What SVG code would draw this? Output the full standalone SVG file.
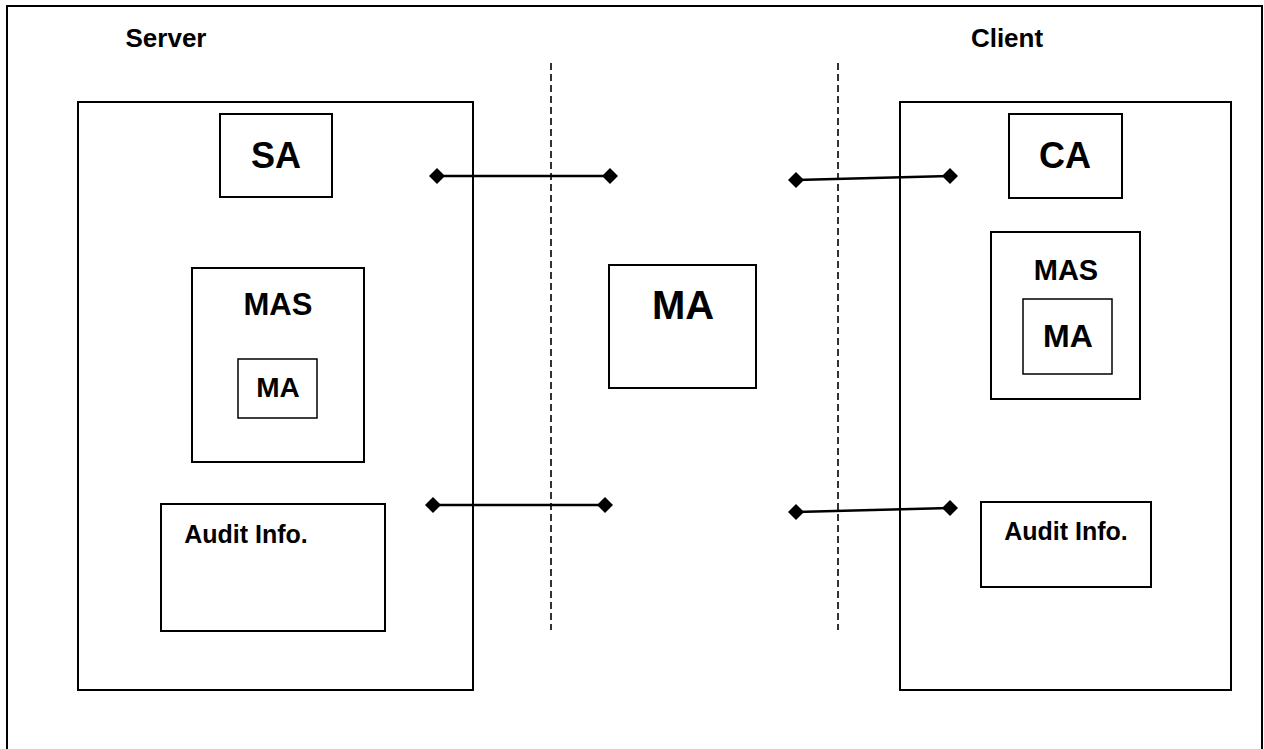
<svg xmlns="http://www.w3.org/2000/svg" width="1264" height="749" viewBox="0 0 1264 749">
<style>
.box{fill:#fff;stroke:#000;stroke-width:2}
.thin{fill:#fff;stroke:#000;stroke-width:1.5}
.lbl{font-family:"Liberation Sans",Arial,sans-serif;font-weight:bold;fill:#000;text-anchor:middle}
.dash{stroke:#000;stroke-width:1.6;stroke-dasharray:7,4;fill:none}
.conn{stroke:#000;stroke-width:2.5;fill:none}
.dia{fill:#000}
</style>
<defs>
<path id="d" d="M0,-8 L8,0 L0,8 L-8,0 Z"/>
</defs>
<rect id="frame" x="7" y="6" width="1255" height="760" fill="#fff" stroke="#000" stroke-width="2"/>
<g id="server-label"><text class="lbl" x="166" y="47" font-size="26">Server</text></g>
<g id="client-label"><text class="lbl" x="1007" y="47" font-size="26">Client</text></g>

<g id="server">
<rect class="box" x="78" y="102" width="395" height="588"/>
</g>
<g id="SA">
<rect class="box" x="220" y="114" width="112" height="83"/>
<text class="lbl" x="276" y="168" font-size="36">SA</text>
</g>
<g id="server-MAS">
<rect class="box" x="192" y="268" width="172" height="194"/>
<text class="lbl" x="278" y="315" font-size="31">MAS</text>
</g>
<g id="server-MA">
<rect class="thin" x="238" y="359" width="79" height="59"/>
<text class="lbl" x="278" y="397" font-size="28">MA</text>
</g>
<g id="server-audit">
<rect class="box" x="161" y="504" width="224" height="127"/>
<text class="lbl" x="246" y="543" font-size="25">Audit Info.</text>
</g>

<g id="MA">
<rect class="box" x="609" y="265" width="147" height="123"/>
<text class="lbl" x="683" y="319" font-size="40">MA</text>
</g>

<g id="client">
<rect class="box" x="900" y="102" width="331" height="588"/>
</g>
<g id="CA">
<rect class="box" x="1009" y="114" width="113" height="84"/>
<text class="lbl" x="1065" y="168" font-size="36">CA</text>
</g>
<g id="client-MAS">
<rect class="box" x="991" y="232" width="149" height="167"/>
<text class="lbl" x="1066" y="280" font-size="29">MAS</text>
</g>
<g id="client-MA">
<rect class="thin" x="1023" y="299" width="89" height="75"/>
<text class="lbl" x="1068" y="347" font-size="32">MA</text>
</g>
<g id="client-audit">
<rect class="box" x="981" y="502" width="170" height="85"/>
<text class="lbl" x="1066" y="540" font-size="25">Audit Info.</text>
</g>

<g id="connectors">
<line class="dash" x1="551" y1="63" x2="551" y2="630"/>
<line class="dash" x1="838" y1="63" x2="838" y2="630"/>
<line class="conn" x1="437" y1="176" x2="610" y2="176"/>
<use href="#d" class="dia" x="437" y="176"/>
<use href="#d" class="dia" x="610" y="176"/>
<line class="conn" x1="796" y1="180" x2="950" y2="176"/>
<use href="#d" class="dia" x="796" y="180"/>
<use href="#d" class="dia" x="950" y="176"/>
<line class="conn" x1="433" y1="505" x2="605" y2="505"/>
<use href="#d" class="dia" x="433" y="505"/>
<use href="#d" class="dia" x="605" y="505"/>
<line class="conn" x1="796" y1="512" x2="950" y2="508"/>
<use href="#d" class="dia" x="796" y="512"/>
<use href="#d" class="dia" x="950" y="508"/>
</g>
</svg>
